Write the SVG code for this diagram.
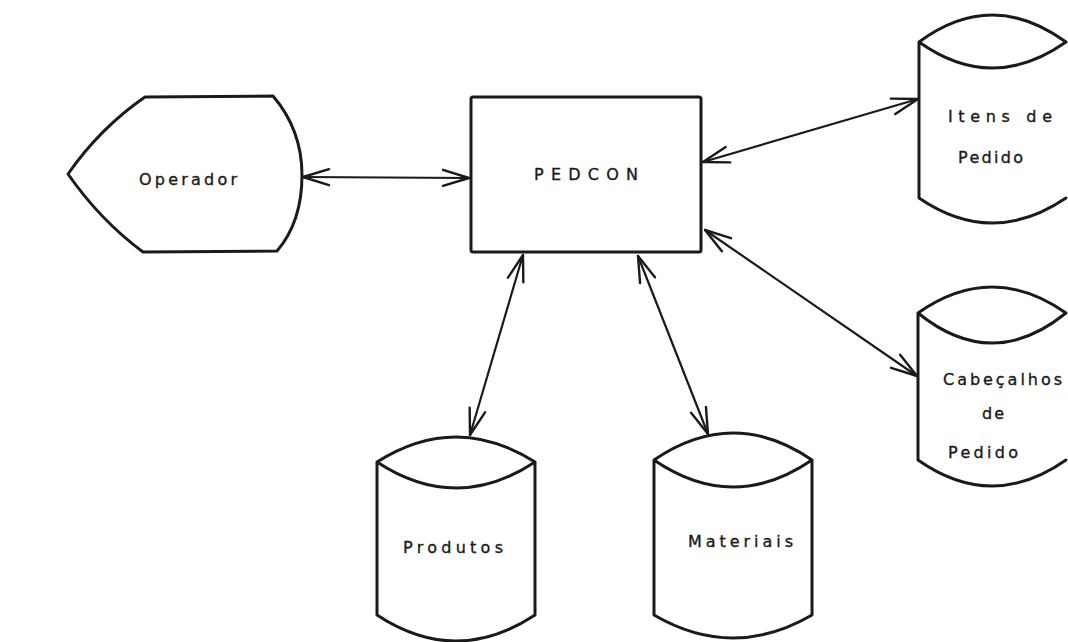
<svg xmlns="http://www.w3.org/2000/svg" width="1068" height="642" viewBox="0 0 1068 642">
<defs>
<style>
.shape{fill:none;stroke:#1a1a1a;stroke-width:3;stroke-linejoin:round;stroke-linecap:round}
.conn{fill:none;stroke:#1a1a1a;stroke-width:2.2;stroke-linecap:round}
.lbl{font-family:"DejaVu Sans","Liberation Sans",sans-serif;font-size:16px;fill:#1a1a1a;stroke:#1a1a1a;stroke-width:0.35}
</style>
<marker id="chev" viewBox="0 0 30 20" refX="28" refY="10" markerWidth="30" markerHeight="20" markerUnits="userSpaceOnUse" orient="auto-start-reverse">
<path d="M2,2 L28,10 L2,18" fill="none" stroke="#1a1a1a" stroke-width="2.4" stroke-linecap="round" stroke-linejoin="round"/>
</marker>
</defs>
<rect width="1068" height="642" fill="#ffffff"/>
<g id="connectors">
<line class="conn" x1="303" y1="177" x2="469" y2="178" marker-start="url(#chev)" marker-end="url(#chev)"/>
<line class="conn" x1="703" y1="162" x2="918" y2="99" marker-start="url(#chev)" marker-end="url(#chev)"/>
<line class="conn" x1="705" y1="230" x2="917" y2="376" marker-start="url(#chev)" marker-end="url(#chev)"/>
<line class="conn" x1="523" y1="255" x2="470" y2="435" marker-start="url(#chev)" marker-end="url(#chev)"/>
<line class="conn" x1="638" y1="256" x2="708" y2="434" marker-start="url(#chev)" marker-end="url(#chev)"/>
</g>
<g id="operador">
<path class="shape" d="M145,97 L273,96 Q302,130 302,175 Q302,222 277,251 L143,252 Q100,220 68,174 Q100,128 145,97 Z"/>
<text class="lbl" x="139" y="185" textLength="98" lengthAdjust="spacing">Operador</text>
</g>
<g id="pedcon">
<rect class="shape" x="471" y="97" width="230" height="155" rx="2"/>
<text class="lbl" x="534" y="180" textLength="104" lengthAdjust="spacing">PEDCON</text>
</g>
<g id="itens">
<path class="shape" d="M919,42 Q992,-12 1066,42 M919,42 Q992,94 1066,42 M919,42 L919,198 Q992,248 1066,198"/>
<text class="lbl" x="948" y="122" textLength="104" lengthAdjust="spacing">Itens de</text>
<text class="lbl" x="958" y="163" textLength="65" lengthAdjust="spacing">Pedido</text>
</g>
<g id="cabecalhos">
<path class="shape" d="M918,313 Q992,261 1066,313 M918,313 Q992,373 1066,313 M918,313 L918,460 Q992,512 1066,460"/>
<text class="lbl" x="943" y="385" textLength="119" lengthAdjust="spacing">Cabeçalhos</text>
<text class="lbl" x="982" y="419" textLength="22" lengthAdjust="spacing">de</text>
<text class="lbl" x="948" y="458" textLength="70" lengthAdjust="spacing">Pedido</text>
</g>
<g id="produtos">
<path class="shape" d="M377,462 Q456,412 535,462 Q456,514 377,462 Z M377,462 L377,615 Q456,667 535,615 L535,462"/>
<text class="lbl" x="403" y="553" textLength="100" lengthAdjust="spacing">Produtos</text>
</g>
<g id="materiais">
<path class="shape" d="M654,460 Q733,406 812,460 Q733,514 654,460 Z M654,460 L654,615 Q733,661 812,615 L812,460"/>
<text class="lbl" x="688" y="547" textLength="105" lengthAdjust="spacing">Materiais</text>
</g>
</svg>
